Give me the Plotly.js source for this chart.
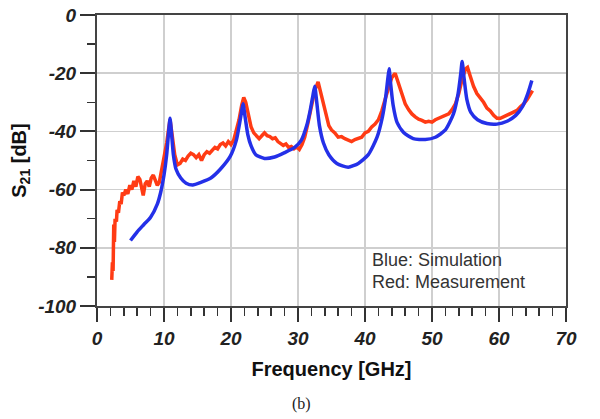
<!DOCTYPE html>
<html>
<head>
<meta charset="utf-8">
<script src="https://cdn.plot.ly/plotly-3.0.1.min.js"></script>
<style>html,body{margin:0;padding:0;background:#fff;}#chart{width:600px;height:419px;}</style>
</head>
<body>
<div id="chart"></div>
<script>
// Simulation (blue)
const simFreq = [5.0,6.0,7.0,8.0,9.0,9.5,10.0,10.4,10.7,10.9,11.1,11.4,11.8,12.5,13.3,14.3,15.5,17.0,18.4,19.9,20.8,21.3,21.6,21.8,22.1,22.5,23.0,23.7,25.0,26.5,28.0,29.5,30.5,31.3,31.8,32.2,32.5,32.8,33.2,33.8,34.6,35.8,37.5,39.0,40.5,41.8,42.6,43.1,43.4,43.6,43.8,44.2,44.8,45.8,47.2,49.0,50.5,52.0,53.2,53.9,54.3,54.5,54.8,55.2,55.8,56.8,58.2,59.7,61.2,62.5,63.5,64.3,64.9];
const simS21 = [-77.5,-74.5,-72,-69.5,-65,-61,-55,-48,-40,-35.5,-40,-48,-53,-56,-57.8,-58.4,-57.5,-56,-53,-48.5,-43,-37,-33,-30.5,-35,-41,-45,-48,-49.3,-48.8,-47.3,-45.5,-43,-38,-33,-28,-24.5,-30,-38,-44,-48,-51,-52.3,-51,-48,-42,-35,-28,-22,-18.5,-23,-31,-37,-40.5,-42.5,-42.8,-42,-39.5,-34,-27,-20,-16,-22,-29,-33.5,-36,-37.3,-37.5,-36.5,-34.5,-31.5,-27,-22.5];

// Measurement (red)
const measFreq = [2.2,2.3,2.4,2.5,2.6,2.7,2.9,3.0,3.2,3.4,3.6,3.8,4.0,4.3,4.6,4.9,5.2,5.5,5.8,6.1,6.4,6.7,6.9,7.2,7.5,7.8,8.1,8.4,8.7,9.0,9.3,9.6,10.0,10.4,10.7,10.9,11.2,11.6,12.0,12.4,12.8,13.2,13.6,14.0,14.4,14.8,15.2,15.6,16.0,16.4,16.8,17.2,17.6,18.0,18.4,18.8,19.2,19.6,20.0,20.4,20.8,21.2,21.6,21.9,22.2,22.6,23.0,23.4,23.8,24.2,24.6,25.0,25.4,25.8,26.2,26.6,27.0,27.4,27.8,28.2,28.6,29.0,29.4,29.8,30.2,30.6,31.0,31.5,32.0,32.5,33.0,33.4,33.8,34.2,34.6,35.0,35.5,36.0,36.5,37.0,37.5,38.0,38.5,39.0,39.5,40.0,40.5,41.0,41.5,42.0,42.5,43.0,43.5,44.0,44.5,45.0,45.5,46.0,46.5,47.0,47.5,48.0,48.5,49.0,49.5,50.0,50.5,51.0,51.5,52.0,52.5,53.0,53.5,54.0,54.5,55.0,55.3,55.7,56.2,56.7,57.2,57.7,58.2,58.7,59.2,59.7,60.2,60.7,61.2,61.7,62.2,62.7,63.2,63.7,64.2,64.6,65.0];
const measS21 = [-91,-85,-88,-72,-78,-70,-71,-67,-68,-64,-65,-61,-62,-60,-61.5,-58.5,-60,-57,-59,-55.5,-56.5,-60,-62,-58,-57,-59,-56,-55,-57,-58.5,-57.5,-54,-49,-44,-39,-36,-41,-48,-51.5,-51,-49.5,-50,-48.5,-47.5,-48,-49,-48,-50,-48,-47,-47.5,-46.5,-45.5,-46,-44.5,-44,-45,-43.5,-44.5,-43,-40,-36,-31,-28.3,-30,-35,-38.5,-40.5,-41.5,-42.5,-41.5,-40.5,-41.5,-41.8,-42.5,-42.2,-43.5,-44,-44.8,-44.3,-45.5,-45.2,-46,-45.3,-46.2,-44.5,-42,-37,-31,-26,-23,-27,-31,-35,-38,-39.5,-40.5,-42,-41.8,-42.5,-43,-43.5,-42.8,-42.5,-42,-40.5,-40,-38.5,-37.5,-36,-33,-29,-25,-21.5,-20,-23.5,-27.5,-30.5,-32.5,-34,-35,-35.8,-36.2,-36.8,-36.5,-36.8,-36,-35.5,-35,-34.8,-34,-32.5,-30.5,-27,-22,-18.5,-18,-21,-24.5,-27,-28.5,-30,-32,-33,-34.5,-35.5,-35.5,-35,-34.5,-34,-33.5,-32.8,-31.5,-30.5,-29,-27.5,-26];

const xTickVals = [0,10,20,30,40,50,60,70];
const xTickText = ['0','10','20','30','40','50','60','70'];
const yTickVals = [0,-20,-40,-60,-80,-100];
const yTickText = ['0','-20','-40','-60','-80','-100'];

const tickFont = {family:'Arial, Liberation Sans, sans-serif', size:19, color:'#222', weight:'bold', style:'italic'};

const traces = [
  {x: measFreq, y: measS21, type:'scatter', mode:'lines', line:{color:'#ff3b14', width:3.5}, showlegend:false},
  {x: simFreq, y: simS21, type:'scatter', mode:'lines', line:{color:'#2430e8', width:3.5, shape:'spline', smoothing:0.6}, showlegend:false}
];

const layout = {
  width:600, height:419,
  margin:{l:97, r:34, t:15, b:113},
  paper_bgcolor:'#fff', plot_bgcolor:'#fff',
  showlegend:false,
  xaxis:{
    range:[0,70], tickvals:xTickVals, ticktext:xTickText,
    showgrid:true, gridcolor:'#cfcfcf', gridwidth:1.5,
    showline:true, linecolor:'#444', linewidth:2, mirror:true,
    ticks:'outside', ticklen:14, tickwidth:2, tickcolor:'#333',
    minor:{dtick:2, ticks:'outside', ticklen:8, tickwidth:1.5, tickcolor:'#333', showgrid:false},
    tickfont:tickFont, zeroline:false, fixedrange:true,
    title:{text:'Frequency [GHz]', font:{family:'Arial, Liberation Sans, sans-serif', size:20, color:'#111', weight:'bold'}, standoff:14}
  },
  yaxis:{
    range:[-100,0], tickvals:yTickVals, ticktext:yTickText,
    showgrid:true, gridcolor:'#cfcfcf', gridwidth:1.5,
    showline:true, linecolor:'#444', linewidth:2, mirror:true,
    ticks:'outside', ticklen:15, tickwidth:2, tickcolor:'#333',
    minor:{dtick:10, ticks:'outside', ticklen:8, tickwidth:1.5, tickcolor:'#333', showgrid:false},
    tickfont:tickFont, zeroline:false, fixedrange:true,
    title:{text:'S<sub>21</sub> [dB]', font:{family:'Arial, Liberation Sans, sans-serif', size:20, color:'#111', weight:'bold'}, standoff:6}
  },
  annotations:[
    {x:40.7, y:-84.2, xref:'x', yref:'y', xanchor:'left', yanchor:'middle', showarrow:false, text:'Blue: Simulation', font:{family:'Arial, Liberation Sans, sans-serif', size:18, color:'#333'}},
    {x:40.7, y:-91.8, xref:'x', yref:'y', xanchor:'left', yanchor:'middle', showarrow:false, text:'Red: Measurement', font:{family:'Arial, Liberation Sans, sans-serif', size:18, color:'#333'}},
    {x:0.437, y:-0.337, xref:'paper', yref:'paper', xanchor:'center', yanchor:'middle', showarrow:false, text:'(b)', font:{family:'Liberation Serif, Times New Roman, serif', size:16, color:'#222'}}
  ]
};

Plotly.newPlot('chart', traces, layout, {displayModeBar:false, staticPlot:true});
</script>
</body>
</html>
